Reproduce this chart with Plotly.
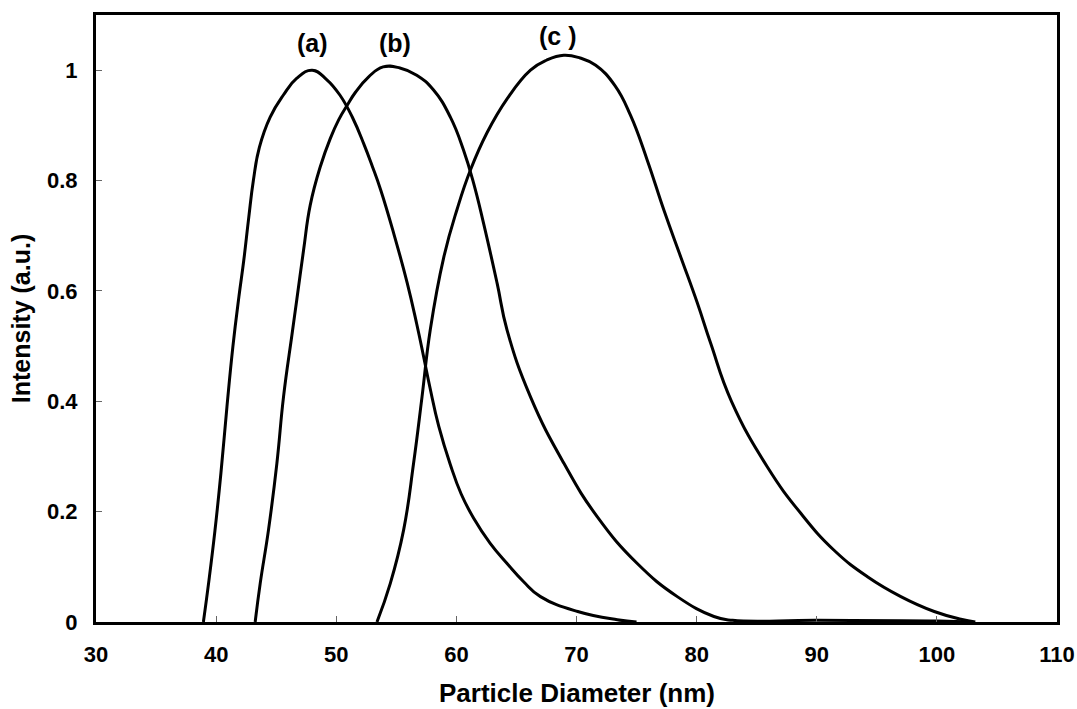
import plotly.graph_objects as go

# Curve (a)
a_x = [38.94, 39.4, 39.9, 40.4, 40.9, 41.4, 41.9, 42.3, 42.7, 43.1, 43.6, 44.5, 45.6, 46.7, 48.0,
       49.2, 50.3, 51.4, 52.3, 53.0, 53.7, 54.8, 55.9, 56.7, 57.3, 57.8, 58.53, 59.5, 60.4, 61.44,
       62.8, 64.22, 65.6, 67.0, 70.1, 73.4, 75.0]
a_y = [0.0, 0.075, 0.165, 0.27, 0.39, 0.50, 0.59, 0.655, 0.73, 0.80, 0.86, 0.915, 0.955, 0.985, 1.0,
       0.983, 0.955, 0.912, 0.866, 0.826, 0.783, 0.703, 0.615, 0.54, 0.478, 0.425, 0.355, 0.285, 0.232, 0.188,
       0.143, 0.106, 0.073, 0.046, 0.019, 0.004, 0.0]

# Curve (b)
b_x = [43.25, 43.67, 44.36, 45.06, 45.61, 46.31, 46.72, 47.28, 47.83, 48.67, 49.5, 50.2, 50.9, 51.6,
       52.7, 53.9, 55.3, 56.7, 58.1, 59.5, 60.6, 61.44, 62.27, 63.39, 64.22, 66.17, 68.94, 71.72,
       75.06, 78.39, 81.44, 83.0, 90.0, 100.0, 103.0]
b_y = [0.0, 0.07, 0.167, 0.288, 0.408, 0.52, 0.585, 0.674, 0.755, 0.825, 0.876, 0.91, 0.936, 0.96,
       0.988, 1.006, 1.004, 0.991, 0.964, 0.915, 0.855, 0.795, 0.722, 0.614, 0.529, 0.408, 0.288, 0.191,
       0.106, 0.046, 0.010, 0.003, 0.003, 0.002, 0.0]

# Curve (c)
c_x = [53.39, 54.5, 55.61, 56.44, 57.14, 57.83, 58.94, 60.06, 61.17, 62.56, 64.22, 66.17, 67.5, 68.94,
       70.3, 71.6, 73.2, 74.5, 75.89, 77.28, 78.67, 80.06, 81.17, 82.9, 85.89, 88.67, 91.44, 94.22,
       97.0, 99.78, 102.0, 103.2]
c_y = [0.0, 0.07, 0.167, 0.288, 0.408, 0.53, 0.66, 0.748, 0.819, 0.887, 0.948, 1.0, 1.018, 1.027,
       1.022, 1.009, 0.972, 0.918, 0.837, 0.746, 0.662, 0.578, 0.505, 0.40, 0.281, 0.197, 0.130, 0.082,
       0.046, 0.019, 0.005, 0.0]

labels = ["(a)", "(b)", "(c )"]
label_x = [48.0, 54.9, 68.5]
label_y = [1.049, 1.049, 1.062]

x_ticks = [30, 40, 50, 60, 70, 80, 90, 100, 110]
y_ticks = [0, 0.2, 0.4, 0.6, 0.8, 1]
y_tick_text = ["0", "0.2", "0.4", "0.6", "0.8", "1"]

x_title = "Particle Diameter (nm)"
y_title = "Intensity (a.u.)"

FONT = "Liberation Sans, Arial, sans-serif"

fig = go.Figure()
for xs, ys in [(a_x, a_y), (b_x, b_y), (c_x, c_y)]:
    fig.add_trace(go.Scatter(x=xs, y=ys, mode="lines",
                             line=dict(color="black", width=3, shape="spline", smoothing=1.3),
                             showlegend=False, hoverinfo="skip"))

for t, lx, ly in zip(labels, label_x, label_y):
    fig.add_annotation(x=lx, y=ly, text=t, showarrow=False,
                       font=dict(family=FONT, size=25, color="black", weight="bold"))

# x-axis title placed below the tick labels
fig.add_annotation(x=0.5, xref="paper", y=0, yref="paper", yanchor="middle", yshift=-71,
                   text=x_title, showarrow=False, borderpad=0,
                   font=dict(family=FONT, size=26, color="black", weight="bold"))

axis_common = dict(showline=True, mirror=True, linewidth=3, linecolor="black",
                   ticks="inside", ticklen=6, tickwidth=1, tickcolor="#666",
                   showgrid=False, zeroline=False, automargin=False,
                   tickfont=dict(family=FONT, size=22, color="black", weight="bold"))

fig.update_layout(
    width=1077, height=709,
    margin=dict(l=96, r=20, t=15, b=87),
    plot_bgcolor="white", paper_bgcolor="white",
    xaxis=dict(range=[30, 110], tickvals=x_ticks, ticklabelstandoff=11, **axis_common),
    yaxis=dict(range=[0, 1.1], tickvals=y_ticks, ticktext=y_tick_text, ticklabelstandoff=11,
               title=dict(text=y_title, standoff=10,
                          font=dict(family=FONT, size=25, color="black", weight="bold")),
               **axis_common),
)

fig.write_html("out.html")
